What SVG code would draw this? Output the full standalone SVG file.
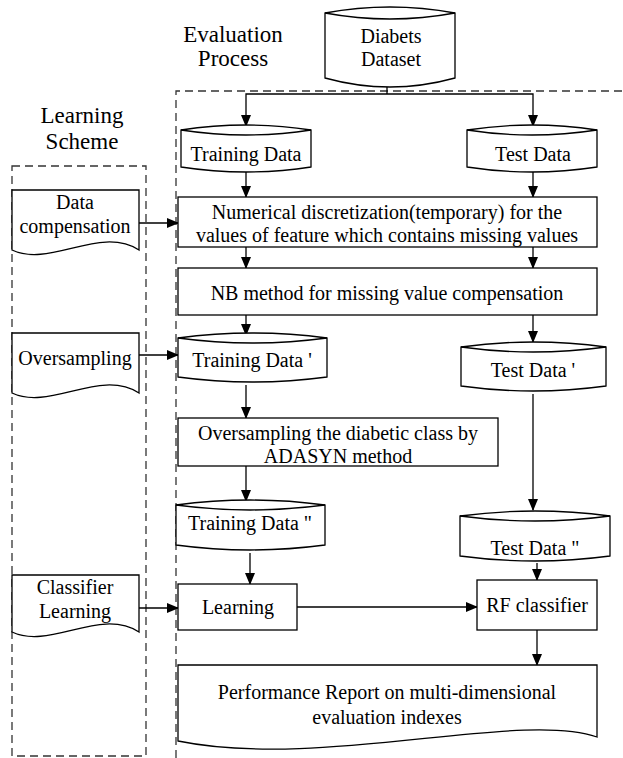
<svg xmlns="http://www.w3.org/2000/svg" width="623" height="758" viewBox="0 0 623 758">
<defs>
<marker id="ah" markerWidth="12" markerHeight="10" refX="11" refY="5" orient="auto" markerUnits="userSpaceOnUse">
<path d="M0,0 L12,5 L0,10 Z" fill="#000"/>
</marker>
<style>
.s{fill:#fff;stroke:#000;stroke-width:1.3}
.d{fill:none;stroke:#333;stroke-width:1.3;stroke-dasharray:8,5}
.c{fill:none;stroke:#000;stroke-width:1.3}
.a{fill:none;stroke:#000;stroke-width:1.3;marker-end:url(#ah)}
text{font-size:20px;fill:#000;text-anchor:middle}
.t{font-size:23px}
</style>
</defs>
<rect width="623" height="758" fill="#fff"/>
<g font-family="Liberation Serif, Times New Roman, Times, DejaVu Serif, serif">
<g id="frames">
<path class="d" d="M176,758 V91 H623"/>
<rect class="d" x="12" y="166" width="134" height="590"/>
<text class="t" x="233" y="42">Evaluation</text>
<text class="t" x="233" y="66">Process</text>
<text class="t" x="82" y="123">Learning</text>
<text class="t" x="82" y="149">Scheme</text>
</g>
<g id="connectors">
<path class="c" d="M387,87 V94"/>
<path class="a" d="M387,94 H246 V126"/>
<path class="a" d="M387,94 H533 V126"/>
<path class="a" d="M246,171 V197"/>
<path class="a" d="M533,171 V197"/>
<path class="a" d="M139,223 H178"/>
<path class="a" d="M246,247 V268"/>
<path class="a" d="M533,247 V268"/>
<path class="a" d="M246,315 V335"/>
<path class="a" d="M533,315 V342"/>
<path class="a" d="M139,355 H178"/>
<path class="a" d="M246,385 V418"/>
<path class="a" d="M533,394 V510"/>
<path class="a" d="M246,466 V501"/>
<path class="a" d="M250,553 V584"/>
<path class="a" d="M537,563 V580"/>
<path class="a" d="M139,608 H178"/>
<path class="a" d="M297,607 H477"/>
<path class="a" d="M537,630 V665"/>
</g>
<g id="diabets">
<path class="s" d="M325,13 Q390,1 455,13 V78 Q390,96 325,78 Z"/>
<path class="c" d="M325,13 Q390,25 455,13"/>
<text x="391" y="43">Diabets</text>
<text x="391" y="66">Dataset</text>
</g>
<g id="training">
<path class="s" d="M181,130 Q246,120 311,130 V167 Q246,177 181,167 Z"/>
<path class="c" d="M181,130 Q246,140 311,130"/>
<text x="246" y="161">Training Data</text>
</g>
<g id="test">
<path class="s" d="M467,130 Q532,120 597,130 V167 Q532,177 467,167 Z"/>
<path class="c" d="M467,130 Q532,140 597,130"/>
<text x="533" y="161">Test Data</text>
</g>
<g id="discretization">
<rect class="s" x="178" y="197" width="419" height="50"/>
<text x="387" y="219">Numerical discretization(temporary) for the</text>
<text x="387" y="242">values of feature which contains missing values</text>
</g>
<g id="nb">
<rect class="s" x="178" y="268" width="419" height="47"/>
<text x="387" y="300">NB method for missing value compensation</text>
</g>
<g id="training1">
<path class="s" d="M178,338 Q252,328 327,338 V377 Q252,387 178,377 Z"/>
<path class="c" d="M178,338 Q252,348 327,338"/>
<text x="252" y="367">Training Data '</text>
</g>
<g id="test1">
<path class="s" d="M461,347 Q533,337 606,347 V386 Q533,396 461,386 Z"/>
<path class="c" d="M461,347 Q533,357 606,347"/>
<text x="533" y="377">Test Data '</text>
</g>
<g id="adasyn">
<rect class="s" x="178" y="418" width="320" height="48"/>
<text x="338" y="440">Oversampling the diabetic class by</text>
<text x="338" y="463">ADASYN method</text>
</g>
<g id="training2">
<path class="s" d="M176,505 Q250,495 325,505 V545 Q250,555 176,545 Z"/>
<path class="c" d="M176,505 Q250,515 325,505"/>
<text x="250" y="530">Training Data "</text>
</g>
<g id="test2">
<path class="s" d="M460,516 Q535,506 610,516 V556 Q535,566 460,556 Z"/>
<path class="c" d="M460,516 Q535,526 610,516"/>
<text x="535" y="555">Test Data "</text>
</g>
<g id="learning">
<rect class="s" x="178" y="584" width="119" height="46"/>
<text x="238" y="614">Learning</text>
</g>
<g id="rf">
<rect class="s" x="477" y="580" width="120" height="50"/>
<text x="537" y="612">RF classifier</text>
</g>
<g id="report">
<path class="s" d="M178,665 H597 V737 C520,710 320,770 178,741 Z"/>
<text x="387" y="699">Performance Report on multi-dimensional</text>
<text x="387" y="724">evaluation indexes</text>
</g>
<g id="datacomp">
<path class="s" d="M12,190 H139 V250 C100,225 50,268 12,250 Z"/>
<text x="75" y="209">Data</text>
<text x="75" y="233">compensation</text>
</g>
<g id="oversampling">
<path class="s" d="M12,333 H139 V393 C100,368 50,411 12,393 Z"/>
<text x="75" y="365">Oversampling</text>
</g>
<g id="classifier">
<path class="s" d="M12,575 H139 V632 C100,607 50,650 12,632 Z"/>
<text x="75" y="594">Classifier</text>
<text x="75" y="618">Learning</text>
</g>
</g>
</svg>
